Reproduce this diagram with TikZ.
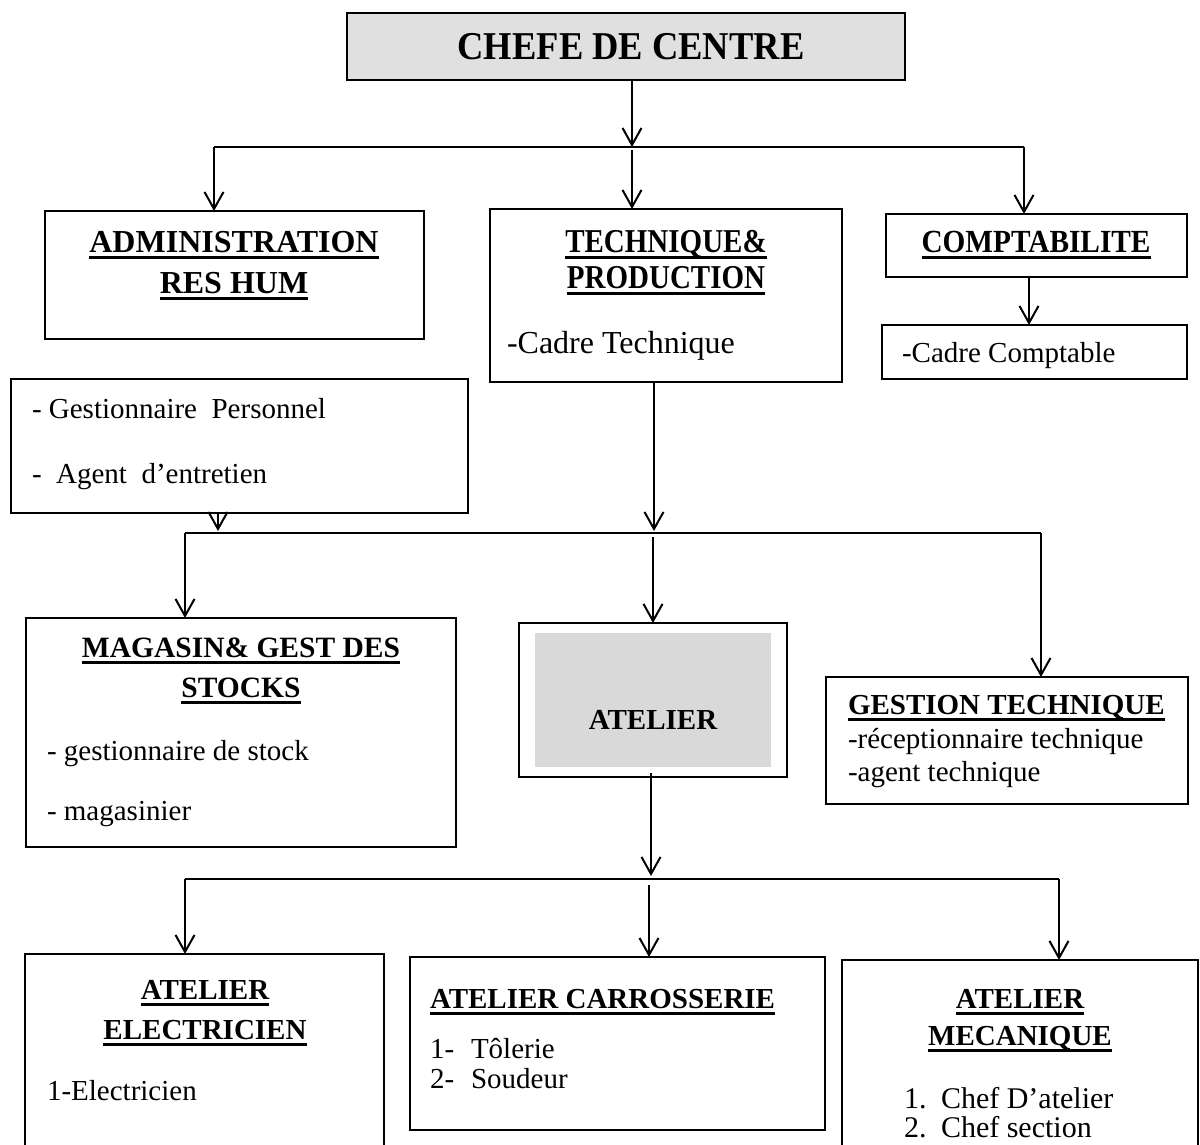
\documentclass[tikz,border=0pt]{standalone}
\usepackage{graphicx}
\usepackage{fontspec}
\setmainfont{Liberation Serif}
\usetikzlibrary{arrows.meta}
\definecolor{chefgray}{HTML}{E0E0E0}
\definecolor{atgray}{HTML}{D9D9D9}
% underline drawn as a thick rule under the text
\newsavebox\ulbox
\newcommand\ulined[1]{\sbox\ulbox{#1}\rlap{\rule[-6.5pt]{\wd\ulbox}{2.6pt}}\usebox\ulbox}
\newcommand\fs[1]{\fontsize{#1}{#1}\selectfont}
% taller lettering for some headings
\newcommand\tall[2]{\scalebox{1}[#1]{#2}}

\begin{document}
\begin{tikzpicture}[x=1pt,y=-1pt,
  box/.style={draw, line width=2pt, inner sep=0pt, outer sep=0pt, anchor=center},
  txt/.style={inner sep=0pt, outer sep=0pt, anchor=base west},
  ctxt/.style={inner sep=0pt, outer sep=0pt, anchor=base},
  link/.style={line width=2pt},
  arr/.style={line width=2pt, -{Straight Barb[length=17pt,width=19pt]}}]
\useasboundingbox (0,0) rectangle (1200,1144);
\clip (0,0) rectangle (1200,1144);

% ---- boxes ----
\node[box, fill=chefgray, minimum width=558pt, minimum height=67pt] (chef) at (626,46.5) {};
\node[box, minimum width=379pt, minimum height=128pt] (admin) at (234.5,275) {};
\node[box, minimum width=457pt, minimum height=134pt] (perso) at (239.5,446) {};
\node[box, minimum width=352pt, minimum height=173pt] (tech) at (666,295.5) {};
\node[box, minimum width=301pt, minimum height=63pt] (compta) at (1036.5,245.5) {};
\node[box, minimum width=305pt, minimum height=54pt] (cadrec) at (1034.5,352) {};
\node[box, minimum width=430pt, minimum height=229pt] (magasin) at (241,732.5) {};
\node[box, minimum width=268pt, minimum height=154pt] (atelier) at (653,700) {};
\node[fill=atgray, inner sep=0pt, minimum width=236pt, minimum height=134pt] (atfill) at (653,700) {};
\node[box, minimum width=362pt, minimum height=127pt] (gtech) at (1007,740.5) {};
\node[box, minimum width=359pt, minimum height=206pt] (elec) at (204.5,1057) {};
\node[box, minimum width=415pt, minimum height=173pt] (carr) at (617.5,1043.5) {};
\node[box, minimum width=356pt, minimum height=200pt] (meca) at (1020,1060) {};

% ---- texts ----
\node[ctxt] (tchef) at (631,59) {\fs{36.5}\bfseries\tall{1.08}{CHEFE DE CENTRE}};

\node[ctxt] (tadm1) at (234,252) {\fs{32}\bfseries\ulined{ADMINISTRATION}};
\node[ctxt] (tadm2) at (234,293) {\fs{32}\bfseries\ulined{RES HUM}};

\node[txt] (tper1) at (32,418) {\fs{29}- Gestionnaire\ \ Personnel};
\node[txt] (tper2) at (32,483) {\fs{29}-\ \ Agent\ \ d’entretien};

\node[ctxt] (ttec1) at (666,252) {\fs{29}\bfseries\tall{1.15}{\ulined{TECHNIQUE\&}}};
\node[ctxt] (ttec2) at (666,288) {\fs{29}\bfseries\tall{1.15}{\ulined{PRODUCTION}}};
\node[txt] (ttec3) at (507,353) {\fs{32}-Cadre Technique};

\node[ctxt] (tcpt) at (1036,252) {\fs{29.3}\bfseries\tall{1.1}{\ulined{COMPTABILITE}}};
\node[txt] (tcc) at (902,362) {\fs{29}-Cadre Comptable};

\node[ctxt] (tmag1) at (241,657) {\fs{29.5}\bfseries\ulined{MAGASIN\& GEST DES}};
\node[ctxt] (tmag2) at (241,697) {\fs{29.5}\bfseries\ulined{STOCKS}};
\node[txt] (tmag3) at (47,760) {\fs{29}- gestionnaire de stock};
\node[txt] (tmag4) at (47,820) {\fs{29}- magasinier};

\node[ctxt] (tat) at (653,729) {\fs{29}\bfseries ATELIER};

\node[txt] (tgt1) at (848,714) {\fs{29}\bfseries\ulined{GESTION TECHNIQUE}};
\node[txt] (tgt2) at (848,748) {\fs{29}-réceptionnaire technique};
\node[txt] (tgt3) at (848,781) {\fs{29}-agent technique};

\node[ctxt] (tel1) at (205,999) {\fs{29}\bfseries\ulined{ATELIER}};
\node[ctxt] (tel2) at (205,1039) {\fs{29}\bfseries\ulined{ELECTRICIEN}};
\node[txt] (tel3) at (47,1100) {\fs{29}1-Electricien};

\node[txt] (tca1) at (430,1008) {\fs{29}\bfseries\ulined{ATELIER CARROSSERIE}};
\node[txt] (tca2) at (430,1058) {\fs{29}1-};
\node[txt] (tca3) at (471,1058) {\fs{29}Tôlerie};
\node[txt] (tca4) at (430,1088) {\fs{29}2-};
\node[txt] (tca5) at (471,1088) {\fs{29}Soudeur};

\node[ctxt] (tme1) at (1020,1008) {\fs{29}\bfseries\ulined{ATELIER}};
\node[ctxt] (tme2) at (1020,1045) {\fs{29}\bfseries\ulined{MECANIQUE}};
\node[txt] (tme3) at (904,1108) {\fs{30}1.};
\node[txt] (tme4) at (941,1108) {\fs{30}Chef D’atelier};
\node[txt] (tme5) at (904,1137) {\fs{30}2.};
\node[txt] (tme6) at (941,1137) {\fs{30}Chef section};

% ---- junction points ----
\coordinate (j1) at (632,147);
\coordinate (j1l) at (214,147);
\coordinate (j1r) at (1024,147);
\coordinate (jc) at (1029,300);
\coordinate (jp) at (218,531);
\coordinate (jt) at (654,531);
\coordinate (j2l) at (185,533);
\coordinate (j2m) at (653,537);
\coordinate (j2r) at (1041,533);
\coordinate (ja) at (651,876);
\coordinate (j3l) at (185,879);
\coordinate (j3m) at (649,885);
\coordinate (j3r) at (1059,879);

% ---- connectors: level 1 ----
\draw[arr] (chef.south -| j1) -- (j1);
\draw[link] (j1l) -- (j1r);
\draw[arr] (j1l) -- (j1l |- admin.north);
\draw[arr] ([yshift=-3pt]j1) -- (j1 |- tech.north);
\draw[arr] (j1r) -- (j1r |- compta.north);
\draw[arr] (compta.south -| jc) -- (cadrec.north -| jc);

% ---- connectors: level 2 ----
\draw[arr] (perso.south -| jp) -- (jp);
\draw[arr] (tech.south -| jt) -- (jt);
\draw[link] (j2l) -- (j2r);
\draw[arr] (j2l) -- (j2l |- magasin.north);
\draw[arr] (j2m) -- (j2m |- atelier.north);
\draw[arr] (j2r) -- (j2r |- gtech.north);

% ---- connectors: level 3 ----
\draw[arr] ([yshift=4pt]atelier.south -| ja) -- (ja);
\draw[link] (j3l) -- (j3r);
\draw[arr] (j3l) -- (j3l |- elec.north);
\draw[arr] (j3m) -- (j3m |- carr.north);
\draw[arr] (j3r) -- (j3r |- meca.north);
\end{tikzpicture}
\end{document}
